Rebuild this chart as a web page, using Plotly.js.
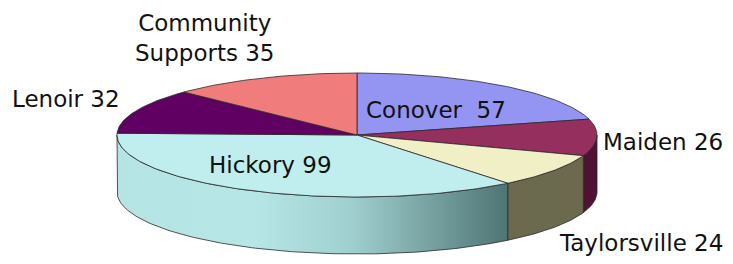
<!DOCTYPE html>
<html>
<head>
<meta charset="utf-8">
<script src="https://cdn.plot.ly/plotly-3.0.1.min.js"></script>
<style>
  html, body { margin: 0; padding: 0; background: #ffffff; }
  #chart { width: 733px; height: 264px; }
</style>
</head>
<body>
<div id="chart"></div>
<script>
// ---- data ----
const labels = ["Conover", "Maiden", "Taylorsville", "Hickory", "Lenoir", "Community Supports"];
const values = [57, 26, 24, 99, 32, 35];
const labelTexts = ["Conover  57", "Maiden 26", "Taylorsville 24", "Hickory 99", "Lenoir 32", "Community<br>Supports 35"];

// ---- styles ----
const topColors  = ["#9494F2", "#952F5E", "#F1EFC6", "#C0EEEE", "#600062", "#F07C7C"];
const sideColors = ["#5A5AA0", "#4E1232", "#6C6A4E", "#7FAFAF", "#3A003C", "#A04E4E"];

// ---- geometry (layout of the 3-D pie in axis units) ----
const cx = 357, cy = 135, ra = 240, rb = 62, depth = 57;
const deg = Math.PI / 180;
function px(t) { return cx + ra * Math.sin(t * deg); }
function py(t) { return cy - rb * Math.cos(t * deg); }

const total = values.reduce((s, v) => s + v, 0);
const starts = [], ends = [];
let acc = 0;
values.forEach(v => { starts.push(acc / total * 360); acc += v; ends.push(acc / total * 360); });

const traces = [];
// side walls (front half: 90..270 deg)
values.forEach((v, i) => {
  const a0 = Math.max(starts[i], 90), a1 = Math.min(ends[i], 270);
  if (a1 <= a0) return;
  const xs = [], ys = [];
  const n = Math.max(2, Math.ceil(a1 - a0));
  for (let k = 0; k <= n; k++) { const t = a0 + (a1 - a0) * k / n; xs.push(px(t)); ys.push(py(t)); }
  for (let k = n; k >= 0; k--) { const t = a0 + (a1 - a0) * k / n; xs.push(px(t)); ys.push(py(t) + depth); }
  xs.push(xs[0]); ys.push(ys[0]);
  const tr = {
    type: "scatter", mode: "lines", x: xs, y: ys, fill: "toself",
    fillcolor: sideColors[i], line: { color: "#2a2a2a", width: 0.8 },
    hoverinfo: "skip", showlegend: false
  };
  if (labels[i] === "Hickory") {
    tr.fillgradient = {
      type: "horizontal",
      colorscale: [[0, "#B4E4E4"], [0.35, "#B6E6E6"], [0.6, "#A0CFCF"], [1, "#4F7474"]]
    };
  }
  traces.push(tr);
});
// top faces
values.forEach((v, i) => {
  const xs = [cx], ys = [cy];
  const a0 = starts[i], a1 = ends[i];
  const n = Math.max(2, Math.ceil(a1 - a0));
  for (let k = 0; k <= n; k++) { const t = a0 + (a1 - a0) * k / n; xs.push(px(t)); ys.push(py(t)); }
  xs.push(cx); ys.push(cy);
  traces.push({
    type: "scatter", mode: "lines", x: xs, y: ys, fill: "toself",
    fillcolor: topColors[i], line: { color: "#2a2a2a", width: 0.8 },
    name: labels[i], hoverinfo: "skip", showlegend: false
  });
});

// label placement (text positions only)
const labelPos = {
  "Conover": [436, 110], "Maiden": [663, 142], "Taylorsville": [641, 243],
  "Hickory": [270, 165], "Lenoir": [66, 99], "Community Supports": [204, 38]
};
const annotations = labels.map((l, i) => ({
  x: labelPos[l][0], y: labelPos[l][1], xref: "x", yref: "y",
  text: labelTexts[i], showarrow: false, xanchor: "center", yanchor: "middle",
  align: "center", font: { family: "DejaVu Sans, Arial, sans-serif", size: 23, color: "#111111" }
}));

const layout = {
  width: 733, height: 264,
  margin: { l: 0, r: 0, t: 0, b: 0 },
  paper_bgcolor: "#ffffff", plot_bgcolor: "#ffffff",
  xaxis: { range: [0, 733], visible: false, fixedrange: true },
  yaxis: { range: [264, 0], visible: false, fixedrange: true },
  showlegend: false, hovermode: false,
  annotations: annotations
};
Plotly.newPlot("chart", traces, layout, { displayModeBar: false, staticPlot: true });
</script>
</body>
</html>
